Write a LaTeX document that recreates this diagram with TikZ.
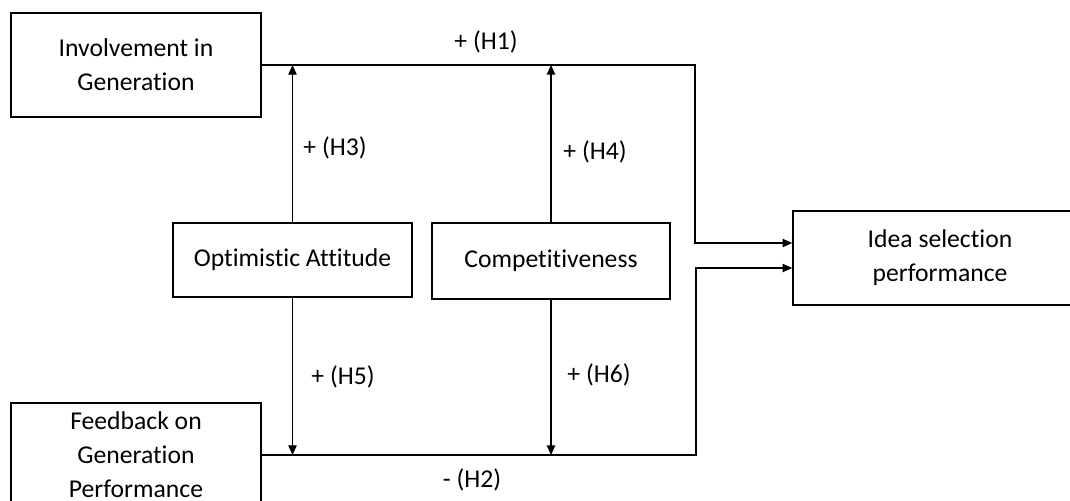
\documentclass[tikz,border=0pt]{standalone}
\usepackage{fontspec}
\setmainfont{Carlito}[Ligatures=NoCommon]
\usetikzlibrary{arrows.meta}

\begin{document}
\begin{tikzpicture}[x=0.02cm,y=-0.02cm,
    box/.style={draw,line width=1pt,inner sep=0pt,align=center,
        font=\fontsize{14.6pt}{19.4pt}\selectfont},
    link/.style={line width=0.6pt},
    arrow/.style={link,-{Triangle[length=5.5pt,width=4.8pt]}},
    hyp/.style={font=\fontsize{14.6pt}{19.4pt}\selectfont}]
    \useasboundingbox (0,0) rectangle (1070,500);
    \clip (0,0) rectangle (1070,500);
    % Draw the boxes
    \node[box,minimum width=5cm,minimum height=2.08cm] (inv) at (136,65) {Involvement in\\Generation};
    \node[box,minimum width=5cm,minimum height=2.08cm] (fb) at (136,455) {Feedback on\\Generation\\Performance};
    \node[box,minimum width=4.78cm,minimum height=1.48cm] (opt) at (292.5,260) {Optimistic Attitude};
    \node[box,minimum width=4.76cm,minimum height=1.52cm] (comp) at (551,261) {Competitiveness};
    \node[box,minimum width=5.88cm,minimum height=1.88cm] (idea) at (940,258) {Idea selection\\performance};
    % Draw the two main paths
    \coordinate (top) at (695,243);
    \coordinate (bot) at (696,268);
    \draw[arrow] (inv.east) -| (top) -- (top -| idea.west);
    \draw[arrow] (fb.east) -| (bot) -- (bot -| idea.west);
    % Draw the moderator arrows
    \draw[arrow] (opt.north) -- (opt.north |- inv.east);
    \draw[arrow] (comp.north) -- (comp.north |- inv.east);
    \draw[arrow] (opt.south) -- (opt.south |- fb.east);
    \draw[arrow] (comp.south) -- (comp.south |- fb.east);
    % Draw the labels
    \node[hyp] (h1) at (486,42) {+ (H1)};
    \node[hyp] (h2) at (472,480) {- (H2)};
    \node[hyp] (h3) at (335,148) {+ (H3)};
    \node[hyp] (h4) at (595,152) {+ (H4)};
    \node[hyp] (h5) at (343,377) {+ (H5)};
    \node[hyp] (h6) at (599,375) {+ (H6)};
\end{tikzpicture}
\end{document}
